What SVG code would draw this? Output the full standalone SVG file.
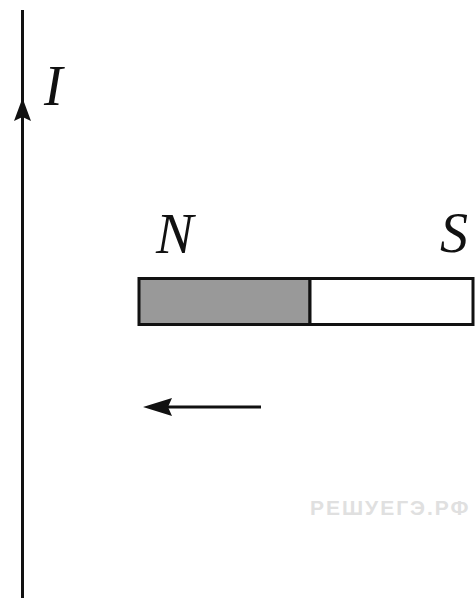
<svg xmlns="http://www.w3.org/2000/svg" width="476" height="603" viewBox="0 0 476 603">
<style>
.lbl{font-family:"Liberation Serif","DejaVu Serif",serif;font-style:italic;font-size:56px;fill:#111}
.ln{stroke:#111;fill:none}
</style>
<rect width="476" height="603" fill="#fff"/>
<g id="wire">
<line class="ln" x1="22.5" y1="10" x2="22.5" y2="598" stroke-width="3"/>
<path d="M22.5,98 L31,121 L22.5,117 L14,121 Z" fill="#111"/>
<text class="lbl" x="44" y="105">I</text>
</g>
<g id="magnet">
<rect x="139" y="278.5" width="171" height="46" fill="#999" stroke="#111" stroke-width="3"/>
<rect x="310" y="278.5" width="163" height="46" fill="#fff" stroke="#111" stroke-width="3"/>
<text class="lbl" x="156" y="253">N</text>
<text class="lbl" x="440" y="252">S</text>
</g>
<g id="connectors">
<line class="ln" x1="261" y1="407" x2="168" y2="407" stroke-width="3"/>
<path d="M143,407 L172,398 L168,407 L172,416 Z" fill="#111"/>
</g>
<text x="310" y="515" font-family="Liberation Sans, sans-serif" font-size="21" font-weight="bold" fill="#e0e0e0" letter-spacing="2">РЕШУЕГЭ.РФ</text>
</svg>
